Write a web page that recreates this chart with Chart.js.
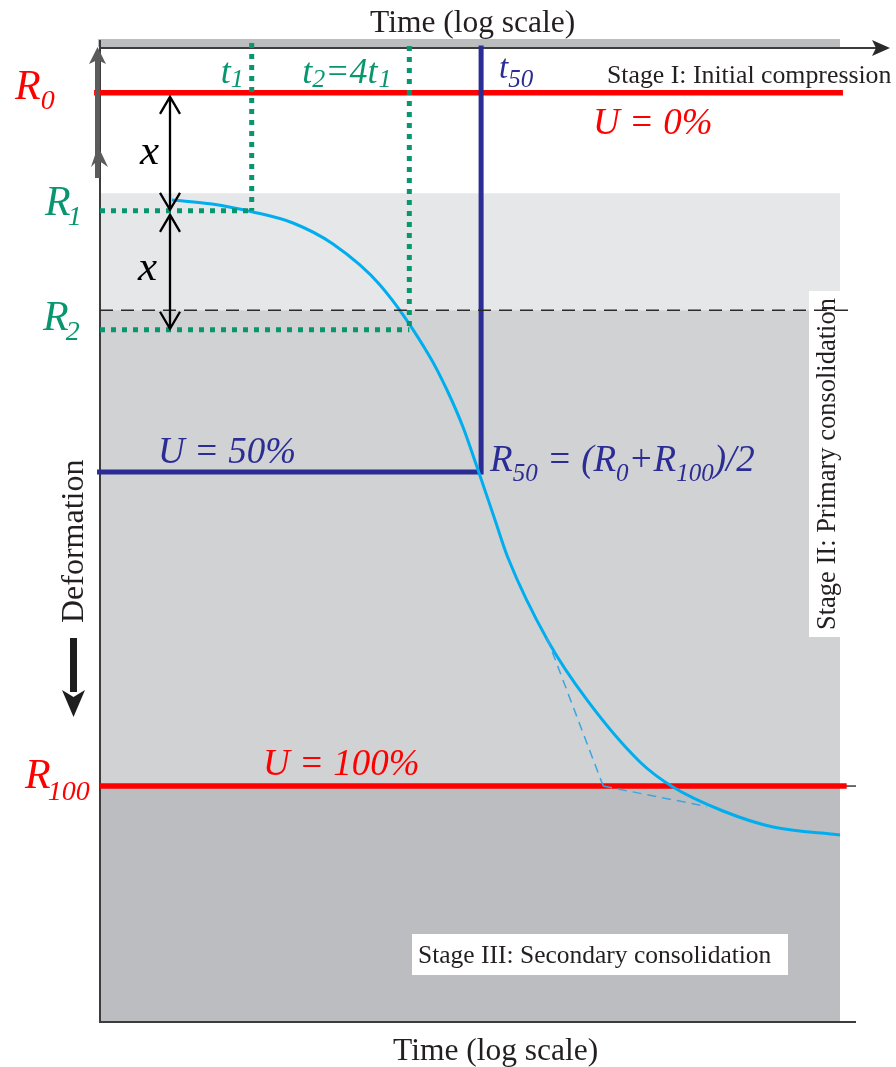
<!DOCTYPE html>
<html>
<head>
<meta charset="utf-8">
<script src="https://cdn.jsdelivr.net/npm/chart.js@4.4.1/dist/chart.umd.min.js"></script>
<style>
  body { margin: 0; background: #fff; }
  canvas { display: block; }
</style>
</head>
<body>
<canvas id="chart" width="896" height="1067"></canvas>
<script>
// time axis is log scale, both axes in arbitrary units 0..100 (deformation grows downward)
const curveTime = [9.73, 15.14, 20.68, 26.08, 31.49, 37.84, 44.59, 46.89, 49.05, 50.95, 53.38, 55.14, 60.54, 65.81, 72.97, 77.43, 84.19, 90.95, 100];
const curveDef = [15.69, 16.10, 16.92, 18.05, 20.21, 24.41, 31.79, 35.18, 38.97, 43.08, 48.51, 52.41, 60.92, 66.97, 73.33, 75.90, 78.36, 80.00, 80.82];

const levelNames = ['R0', 'R1', 'R2', 'R50', 'R100'];
const levelDef = [4.7, 16.8, 29.0, 43.6, 75.8];

const timeNames = ['t1', 't2', 't50'];
const timeVal = [20.5, 41.8, 51.5];

// stage boundaries: start of stage II shading, dashed line, end of primary (R100)
const stageBounds = [15.0, 27.0, 75.8];

const tangent1Time = [60.4, 68.0];
const tangent1Def = [60.6, 75.8];
const tangent2Time = [68.0, 82.0];
const tangent2Def = [75.8, 77.9];

const arrowTime = 9.46;

const RED = '#ff0000';
const BLUE = '#2b2c94';
const GREEN = '#08966f';
const CYAN = '#00aeef';
const INK = '#231f20';

function pts(xs, ys) {
  return xs.map((x, i) => ({ x: x, y: ys[i] }));
}

function seq(ctx, x, y, parts, color) {
  ctx.fillStyle = color;
  ctx.textAlign = 'left';
  ctx.textBaseline = 'alphabetic';
  parts.forEach(p => {
    ctx.font = p[1];
    ctx.fillText(p[0], x, y + (p[2] || 0));
    x += ctx.measureText(p[0]).width + (p[3] || 0);
  });
}

const it = s => 'italic ' + s + 'px "Liberation Serif"';
const rm = s => s + 'px "Liberation Serif"';

const datasets = [
  // green dotted construction lines
  { data: pts([timeVal[0], timeVal[0]], [-0.4, levelDef[1]]), borderColor: GREEN, borderWidth: 5, borderDash: [5, 6] },
  { data: pts([0, timeVal[0]], [levelDef[1], levelDef[1]]), borderColor: GREEN, borderWidth: 5, borderDash: [5, 6] },
  { data: pts([timeVal[1], timeVal[1]], [-0.1, levelDef[2]]), borderColor: GREEN, borderWidth: 5, borderDash: [5, 6] },
  { data: pts([0, timeVal[1]], [levelDef[2], levelDef[2]]), borderColor: GREEN, borderWidth: 5, borderDash: [5, 6] },
  // dashed boundary line
  { data: pts([0, 102], [stageBounds[1], stageBounds[1]]), borderColor: '#2a2a2a', borderWidth: 1.5, borderDash: [13, 8] },
  // tangents
  { data: pts(tangent1Time, tangent1Def), borderColor: '#3ba6df', borderWidth: 1.5, borderDash: [9, 6] },
  { data: pts(tangent2Time, tangent2Def), borderColor: '#3ba6df', borderWidth: 1.5, borderDash: [9, 6] },
  // curve
  { data: pts(curveTime, curveDef), borderColor: CYAN, borderWidth: 3, cubicInterpolationMode: 'monotone' },
  // U = 50% lines
  { data: pts([-0.4, timeVal[2]], [levelDef[3], levelDef[3]]), borderColor: BLUE, borderWidth: 5 },
  { data: pts([timeVal[2], timeVal[2]], [0.1, levelDef[3]]), borderColor: BLUE, borderWidth: 5, borderCapStyle: 'square' },
  // R0 and R100
  { data: pts([-0.8, 100.4], [levelDef[0], levelDef[0]]), borderColor: RED, borderWidth: 5.5 },
  { data: pts([0, 100.9], [levelDef[4], levelDef[4]]), borderColor: RED, borderWidth: 5.5 }
].map(d => Object.assign({ showLine: true, pointRadius: 0, clip: false, borderCapStyle: 'butt' }, d));

const backdrop = {
  id: 'backdrop',
  beforeDatasetsDraw(chart) {
    const ctx = chart.ctx, a = chart.chartArea;
    const y = chart.scales.y;
    ctx.save();
    ctx.fillStyle = '#e6e7e9';
    ctx.fillRect(a.left, y.getPixelForValue(stageBounds[0]), a.right - a.left, y.getPixelForValue(stageBounds[1]) - y.getPixelForValue(stageBounds[0]));
    ctx.fillStyle = '#d1d2d4';
    ctx.fillRect(a.left, y.getPixelForValue(stageBounds[1]), a.right - a.left, y.getPixelForValue(stageBounds[2]) - y.getPixelForValue(stageBounds[1]));
    ctx.fillStyle = '#bcbdc0';
    ctx.fillRect(a.left, y.getPixelForValue(stageBounds[2]), a.right - a.left, a.bottom - y.getPixelForValue(stageBounds[2]));
    // top band
    ctx.fillStyle = '#bcbdbf';
    ctx.fillRect(a.left - 2, a.top - 8, a.right - a.left + 2, 8);
    // white label boxes
    ctx.fillStyle = '#fff';
    ctx.fillRect(a.right - 31, 291, 31, 346);
    ctx.fillRect(412, 934, 376, 41);
    // frame
    ctx.strokeStyle = '#3c3c3c';
    ctx.lineWidth = 2;
    ctx.beginPath();
    ctx.moveTo(a.left, a.top - 7);
    ctx.lineTo(a.left, a.bottom);
    ctx.lineTo(a.right + 16, a.bottom);
    ctx.stroke();
    ctx.beginPath();
    ctx.moveTo(a.left, a.top + 1);
    ctx.lineTo(a.right + 36, a.top + 1);
    ctx.stroke();
    ctx.fillStyle = '#2a2a2a';
    ctx.beginPath();
    ctx.moveTo(a.right + 32, a.top - 7);
    ctx.lineTo(a.right + 50, a.top + 1);
    ctx.lineTo(a.right + 32, a.top + 9);
    ctx.lineTo(a.right + 36, a.top + 1);
    ctx.closePath();
    ctx.fill();
    // tick at R100
    ctx.lineWidth = 1.5;
    ctx.beginPath();
    ctx.moveTo(a.right, y.getPixelForValue(levelDef[4]));
    ctx.lineTo(a.right + 16, y.getPixelForValue(levelDef[4]));
    ctx.stroke();
    ctx.restore();
  },
  afterDatasetsDraw(chart) {
    const ctx = chart.ctx, a = chart.chartArea;
    const X = v => chart.scales.x.getPixelForValue(v);
    const Y = v => chart.scales.y.getPixelForValue(v);
    ctx.save();

    // grey up arrow at left axis
    ctx.fillStyle = '#5b5b5b';
    ctx.fillRect(a.left - 5, 60, 5, 118);
    ctx.beginPath();
    ctx.moveTo(a.left - 2.5, 47); ctx.lineTo(a.left + 6, 64); ctx.lineTo(a.left - 2.5, 60); ctx.lineTo(a.left - 11, 64);
    ctx.closePath(); ctx.fill();
    ctx.beginPath();
    ctx.moveTo(a.left - 2, 146); ctx.lineTo(a.left + 8, 167); ctx.lineTo(a.left - 2, 160); ctx.lineTo(a.left - 9, 167);
    ctx.closePath(); ctx.fill();

    // double arrows x
    const ax = X(arrowTime);
    const dbl = (y0, y1) => {
      ctx.strokeStyle = '#000';
      ctx.lineWidth = 2.3;
      ctx.beginPath();
      ctx.moveTo(ax, y0); ctx.lineTo(ax, y1);
      ctx.moveTo(ax - 10, y0 + 17); ctx.lineTo(ax, y0); ctx.lineTo(ax + 10, y0 + 17);
      ctx.moveTo(ax - 10, y1 - 17); ctx.lineTo(ax, y1); ctx.lineTo(ax + 10, y1 - 17);
      ctx.stroke();
    };
    dbl(Y(levelDef[0]) + 4, Y(levelDef[1]) - 1);
    dbl(Y(levelDef[1]) + 4, Y(levelDef[2]) - 1);
    seq(ctx, ax - 30, Y(levelDef[0]) + 71, [['x', it(43)]], '#000');
    seq(ctx, ax - 32, Y(levelDef[1]) + 69, [['x', it(43)]], '#000');

    // deformation arrow
    ctx.fillStyle = '#1e1e1e';
    ctx.fillRect(70, 638, 7, 54);
    ctx.beginPath();
    ctx.moveTo(62, 690); ctx.lineTo(73.5, 697); ctx.lineTo(85, 690); ctx.lineTo(73.5, 717);
    ctx.closePath(); ctx.fill();

    // level labels
    seq(ctx, 15, Y(levelDef[0]) + 6, [['R', it(42)], ['0', it(28), 10]], RED);
    seq(ctx, 45, Y(levelDef[1]) + 4, [['R', it(42), 0, -3], ['1', it(28), 10]], GREEN);
    seq(ctx, 43, Y(levelDef[2]), [['R', it(42), 0, -3], ['2', it(28), 10]], GREEN);
    seq(ctx, 25, Y(levelDef[4]) + 2, [['R', it(42), 0, -3], ['100', it(28), 12]], RED);

    // time labels
    seq(ctx, X(timeVal[0]) - 31, 83, [['t', it(36)], ['1', it(26), 4]], GREEN);
    seq(ctx, X(timeVal[1]) - 107, 83, [['t', it(36)], ['2', it(26), 4], ['=4t', it(36), 0, 1], ['1', it(26), 4]], GREEN);
    seq(ctx, X(timeVal[2]) + 18, 78, [['t', it(33)], ['50', it(25), 9]], BLUE);

    // U labels
    seq(ctx, 593, Y(levelDef[0]) + 41, [['U = 0%', it(37)]], RED);
    seq(ctx, 158, Y(levelDef[3]) - 9, [['U = 50%', it(37)]], BLUE);
    seq(ctx, 263, Y(levelDef[4]) - 11, [['U = 100%', it(37)]], RED);
    seq(ctx, X(timeVal[2]) + 9, Y(levelDef[3]) - 1, [
      ['R', it(37)], ['50', it(25), 10], [' = (R', it(37)], ['0', it(25), 10], ['+R', it(37)], ['100', it(25), 10], [')/2', it(37)]
    ], BLUE);

    // stage texts
    seq(ctx, 607, 83, [['Stage I: Initial compression', rm(25.8)]], INK);
    seq(ctx, 418, 963, [['Stage III: Secondary consolidation', rm(25.5)]], INK);
    ctx.save();
    ctx.translate(835, 630);
    ctx.rotate(-Math.PI / 2);
    seq(ctx, 0, 0, [['Stage II: Primary consolidation', rm(26.5)]], INK);
    ctx.restore();
    ctx.save();
    ctx.translate(83, 623);
    ctx.rotate(-Math.PI / 2);
    seq(ctx, 0, 0, [['Deformation', rm(32)]], INK);
    ctx.restore();

    // axis titles
    seq(ctx, 370, 32, [['Time (log scale)', rm(31.5)]], INK);
    seq(ctx, 393, 1060, [['Time (log scale)', rm(31.5)]], INK);
    ctx.restore();
  }
};

new Chart(document.getElementById('chart'), {
  type: 'scatter',
  data: { datasets: datasets },
  options: {
    responsive: false,
    animation: false,
    layout: { padding: { left: 100, right: 56, top: 47, bottom: 45 } },
    scales: {
      x: { type: 'linear', min: 0, max: 100, display: false },
      y: { type: 'linear', min: 0, max: 100, reverse: true, display: false }
    },
    plugins: { legend: { display: false }, tooltip: { enabled: false } }
  },
  plugins: [backdrop]
});
</script>
</body>
</html>
